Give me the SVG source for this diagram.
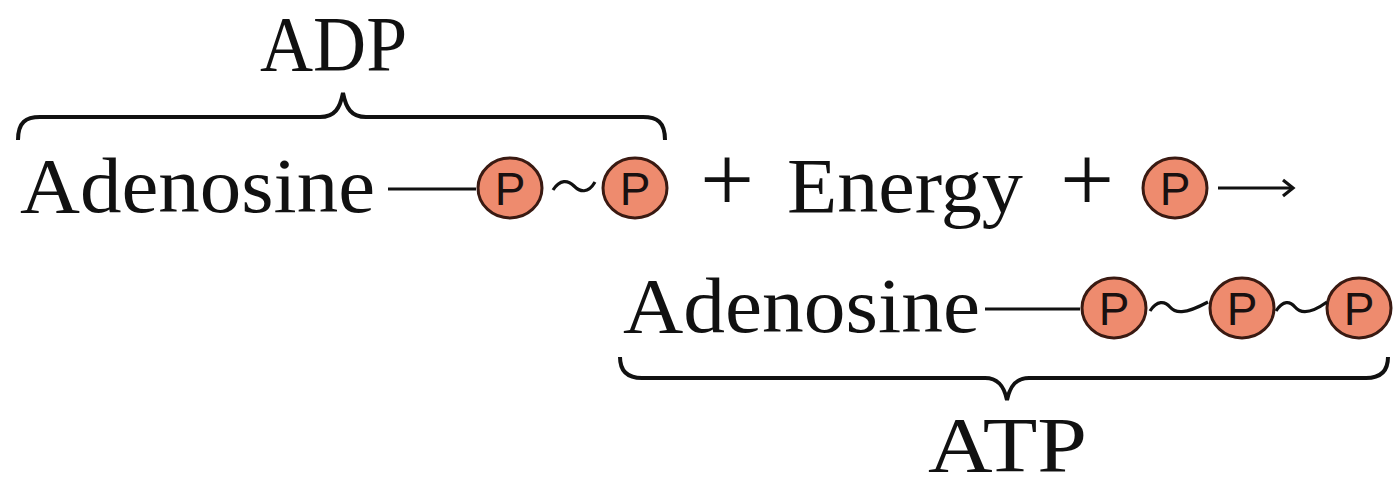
<svg xmlns="http://www.w3.org/2000/svg" width="1397" height="489" viewBox="0 0 1397 489">
<style>
.t{font-family:"Liberation Serif","Times New Roman",serif;font-size:78px;fill:#111}
.p{font-family:"Liberation Sans",Arial,sans-serif;font-size:46px;fill:#1a1010;text-anchor:middle}
.c{fill:#EE8B6E;stroke:#3a1a12;stroke-width:3}
.b{fill:none;stroke:#111;stroke-width:3.2}
.br{fill:none;stroke:#111;stroke-width:4}
</style>
<defs>
<g id="phos"><ellipse class="c" cx="0" cy="0" rx="32" ry="30"/><text class="p" x="0" y="16.5">P</text></g>
</defs>
<rect width="1397" height="489" fill="#fff"/>
<g id="adp-label"><text class="t" x="260" y="70" textLength="147" lengthAdjust="spacingAndGlyphs">ADP</text></g>
<g id="adp-brace"><path class="br" d="M18,140 C18,122 26,117 40,117 L320,117 C335,117 340,108 343,93 C346,108 351,117 366,117 L643,117 C657,117 665,122 665,140"/></g>
<g id="adenosine1"><text class="t" x="20" y="212" textLength="355" lengthAdjust="spacingAndGlyphs">Adenosine</text></g>
<g id="p1"><use href="#phos" x="510" y="188"/></g>
<g id="p2"><use href="#phos" x="635" y="188"/></g>
<g id="plus1"><text class="t" x="727" y="211" text-anchor="middle" style="font-size:96px">+</text></g>
<g id="energy"><text class="t" x="787" y="212" textLength="236" lengthAdjust="spacingAndGlyphs">Energy</text></g>
<g id="plus2"><text class="t" x="1087" y="211" text-anchor="middle" style="font-size:96px">+</text></g>
<g id="p3"><use href="#phos" x="1175" y="188"/></g>
<g id="adenosine2"><text class="t" x="623" y="332" textLength="357" lengthAdjust="spacingAndGlyphs">Adenosine</text></g>
<g id="p4"><use href="#phos" x="1114" y="308"/></g>
<g id="p5"><use href="#phos" x="1242" y="308"/></g>
<g id="p6"><use href="#phos" x="1359" y="308"/></g>
<g id="atp-brace"><path class="br" d="M620,357 C620,372 628,378 642,378 L985,378 C998,378 1004,386 1007,400 C1010,386 1016,378 1029,378 L1366,378 C1380,378 1388,372 1388,357"/></g>
<g id="atp-label"><text class="t" x="928" y="471" textLength="159" lengthAdjust="spacingAndGlyphs">ATP</text></g>
<g id="connectors">
<line class="b" x1="388" y1="189" x2="476" y2="189"/>
<path class="b" d="M553,190 C560,179 568,180 574,186 S588,194 595,182"/>
<line class="b" x1="1218" y1="188" x2="1292" y2="188"/>
<polyline class="b" points="1283,180 1293,188 1283,196"/>
<line class="b" x1="985" y1="309" x2="1080" y2="309"/>
<path class="b" d="M1150,311 C1157,300 1165,301 1170,307 S1184,315 1208,302"/>
<path class="b" d="M1276,311 C1283,300 1290,301 1295,307 S1309,315 1327,302"/>
</g>
</svg>
